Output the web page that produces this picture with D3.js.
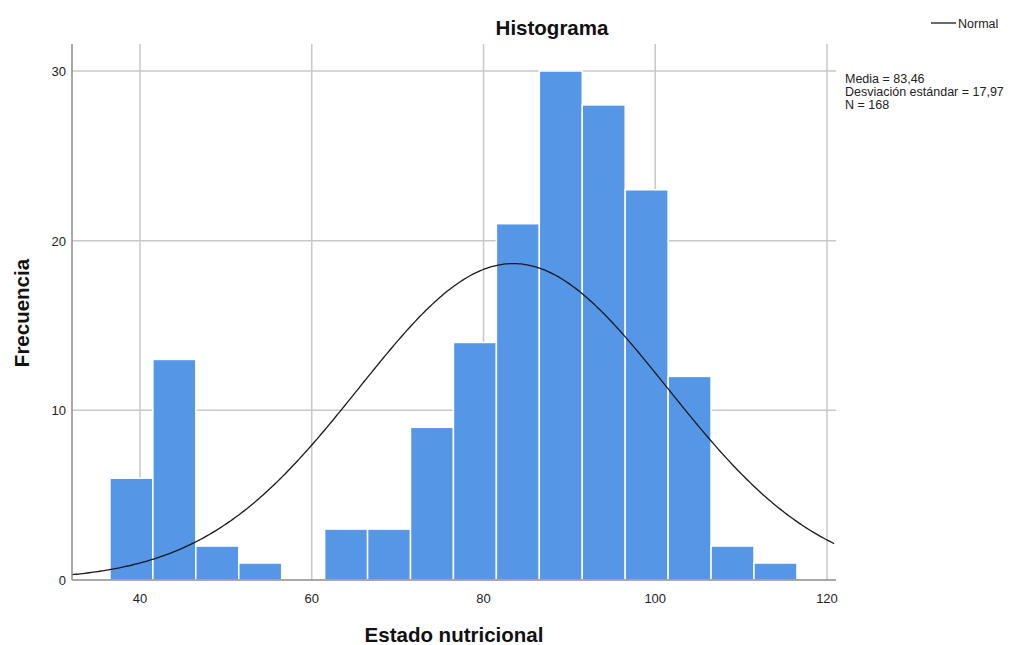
<!DOCTYPE html>
<html>
<head>
<meta charset="utf-8">
<script src="https://cdn.jsdelivr.net/npm/d3@7"></script>
<style>
  body { margin: 0; background: #fff; }
  text { font-family: "Liberation Sans", Arial, sans-serif; }
</style>
</head>
<body>
<div class="chart"></div>
<script>
var svgWidth = 1031;
var svgHeight = 645;

// bins of width 5 starting at 36.5
var binStarts = [36.5, 41.5, 46.5, 51.5, 56.5, 61.5, 66.5, 71.5, 76.5, 81.5, 86.5, 91.5, 96.5, 101.5, 106.5, 111.5];
var counts = [6, 13, 2, 1, 0, 3, 3, 9, 14, 21, 30, 28, 23, 12, 2, 1];
var binWidth = 5;
var xTicks = [40, 60, 80, 100, 120];
var yTicks = [0, 10, 20, 30];
var stats = { mean: 83.46, sd: 17.97, n: 168 };
var statLines = ["Media = 83,46", "Desviación estándar = 17,97", "N = 168"];

var plot = { left: 72, right: 836, top: 44, bottom: 580 };

var svg = d3.select(".chart")
  .append("svg")
  .attr("width", svgWidth)
  .attr("height", svgHeight);

var x = d3.scaleLinear()
  .domain([40, 120])
  .range([140, 827]);

var y = d3.scaleLinear()
  .domain([0, 30])
  .range([plot.bottom, 71]);

// grid lines
svg.selectAll(".vgrid")
  .data(xTicks)
  .enter()
  .append("line")
  .attr("x1", d => x(d)).attr("x2", d => x(d))
  .attr("y1", plot.top).attr("y2", plot.bottom)
  .attr("stroke", "#c8c8c8")
  .attr("stroke-width", 1.5);

svg.selectAll(".hgrid")
  .data(yTicks.slice(1))
  .enter()
  .append("line")
  .attr("x1", plot.left).attr("x2", plot.right)
  .attr("y1", d => y(d)).attr("y2", d => y(d))
  .attr("stroke", "#c8c8c8")
  .attr("stroke-width", 1.5);

// bars
svg.selectAll("rect")
  .data(counts)
  .enter()
  .append("rect")
  .attr("x", (d, i) => x(binStarts[i]))
  .attr("width", (d, i) => x(binStarts[i] + binWidth) - x(binStarts[i]))
  .attr("y", d => y(d))
  .attr("height", d => y(0) - y(d))
  .attr("fill", "#5596e6")
  .attr("stroke", "#ffffff")
  .attr("stroke-width", 1.5);

// normal curve from the stated mean / sd / N
var xmin = x.invert(plot.left), xmax = x.invert(plot.right);
var curvePts = d3.range(xmin, xmax + 0.01, 0.25).map(function(v) {
  var z = (v - stats.mean) / stats.sd;
  return [v, stats.n * binWidth * Math.exp(-0.5 * z * z) / (stats.sd * Math.sqrt(2 * Math.PI))];
});

svg.append("path")
  .datum(curvePts)
  .attr("fill", "none")
  .attr("stroke", "#1a1a1a")
  .attr("stroke-width", 1.3)
  .attr("d", d3.line().x(d => x(d[0])).y(d => y(d[1])));

// axis lines
svg.append("line")
  .attr("x1", plot.left).attr("x2", plot.left)
  .attr("y1", plot.top).attr("y2", plot.bottom)
  .attr("stroke", "#8c8c8c").attr("stroke-width", 1.5);
svg.append("line")
  .attr("x1", plot.left).attr("x2", plot.right)
  .attr("y1", plot.bottom).attr("y2", plot.bottom)
  .attr("stroke", "#8c8c8c").attr("stroke-width", 1.5);

// tick labels
svg.selectAll(".ylab")
  .data(yTicks)
  .enter()
  .append("text")
  .attr("x", 66)
  .attr("y", d => y(d) + 5)
  .attr("text-anchor", "end")
  .attr("font-size", 13)
  .attr("fill", "#222")
  .text(d => d);

svg.selectAll(".xlab")
  .data(xTicks)
  .enter()
  .append("text")
  .attr("x", d => x(d))
  .attr("y", 603)
  .attr("text-anchor", "middle")
  .attr("font-size", 13)
  .attr("fill", "#222")
  .text(d => d);

// titles
svg.append("text")
  .attr("x", 552).attr("y", 35)
  .attr("text-anchor", "middle")
  .attr("font-size", 20.5)
  .attr("font-weight", "bold")
  .attr("fill", "#111")
  .text("Histograma");

svg.append("text")
  .attr("x", 454).attr("y", 642)
  .attr("text-anchor", "middle")
  .attr("font-size", 20.5)
  .attr("font-weight", "bold")
  .attr("fill", "#111")
  .text("Estado nutricional");

svg.append("text")
  .attr("transform", "translate(29, 313) rotate(-90)")
  .attr("text-anchor", "middle")
  .attr("font-size", 20.5)
  .attr("font-weight", "bold")
  .attr("fill", "#111")
  .text("Frecuencia");

// legend
svg.append("line")
  .attr("x1", 931).attr("x2", 956)
  .attr("y1", 23).attr("y2", 23)
  .attr("stroke", "#1a1a1a").attr("stroke-width", 1.3);
svg.append("text")
  .attr("x", 958).attr("y", 28)
  .attr("font-size", 12.5)
  .attr("fill", "#222")
  .text("Normal");

svg.selectAll(".stat")
  .data(statLines)
  .enter()
  .append("text")
  .attr("x", 845)
  .attr("y", (d, i) => 83 + i * 13)
  .attr("font-size", 12.5)
  .attr("fill", "#222")
  .text(d => d);
</script>
</body>
</html>
